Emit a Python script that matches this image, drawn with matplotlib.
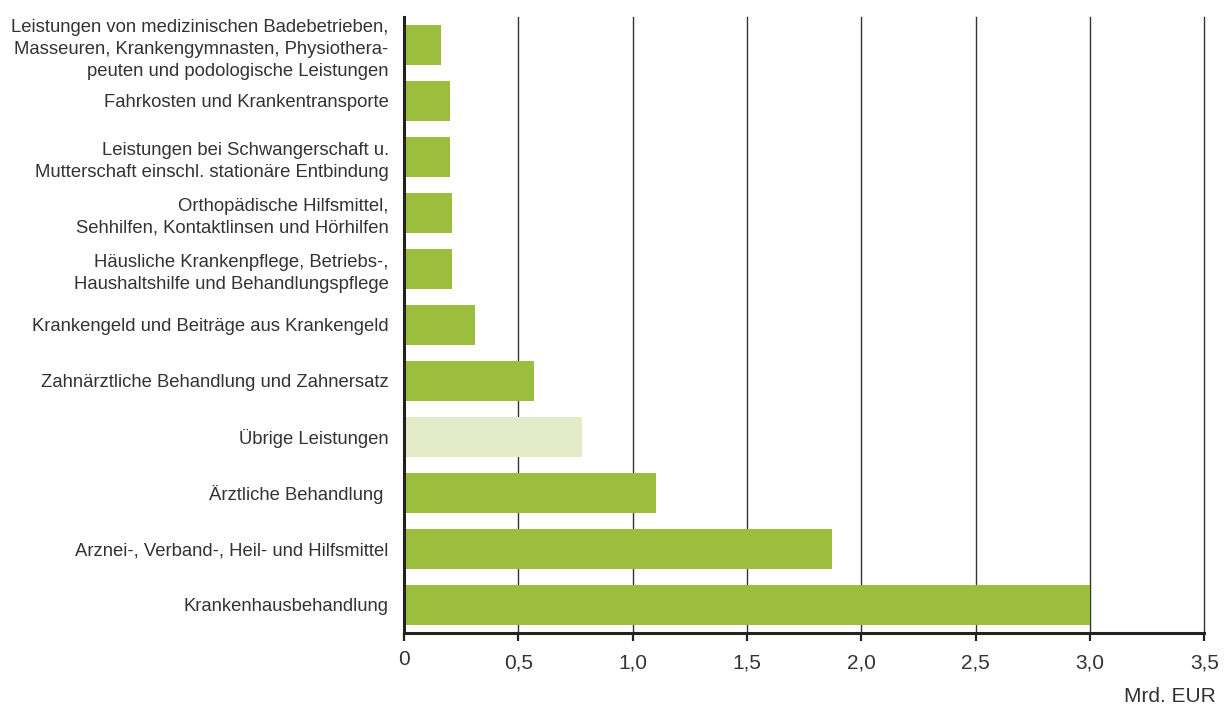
import matplotlib.pyplot as plt
from matplotlib.transforms import ScaledTranslation

# Leistungsausgaben nach Bereichen (Mrd. EUR), von oben nach unten
categories = [
    "Leistungen von medizinischen Badebetrieben,\nMasseuren, Krankengymnasten, Physiothera-\npeuten und podologische Leistungen",
    "Fahrkosten und Krankentransporte",
    "Leistungen bei Schwangerschaft u.\nMutterschaft einschl. stationäre Entbindung",
    "Orthopädische Hilfsmittel,\nSehhilfen, Kontaktlinsen und Hörhilfen",
    "Häusliche Krankenpflege, Betriebs-,\nHaushaltshilfe und Behandlungspflege",
    "Krankengeld und Beiträge aus Krankengeld",
    "Zahnärztliche Behandlung und Zahnersatz",
    "Übrige Leistungen",
    "Ärztliche Behandlung ",
    "Arznei-, Verband-, Heil- und Hilfsmittel",
    "Krankenhausbehandlung",
]
values = [0.16, 0.20, 0.20, 0.21, 0.21, 0.31, 0.57, 0.78, 1.10, 1.87, 3.00]
highlight = "Übrige Leistungen"

x_ticks = [0, 0.5, 1.0, 1.5, 2.0, 2.5, 3.0, 3.5]
x_tick_labels = ["0", "0,5", "1,0", "1,5", "2,0", "2,5", "3,0", "3,5"]

plt.rcParams["font.family"] = ["Liberation Sans", "DejaVu Sans"]

green = "#9bbe3f"
light_green = "#e3ebc8"
text_color = "#333333"
colors = [light_green if c == highlight else green for c in categories]

fig = plt.figure(figsize=(12.29, 7.06), dpi=100)
ax = fig.add_axes([0.3287, 0.1038, 0.6513, 0.8722])

# erste Kategorie oben
ypos = list(range(len(categories)))[::-1]
ax.barh(ypos, values, height=0.72, color=colors, zorder=2)

ax.set_ylim(-0.5, len(categories) - 0.5)
ax.set_xlim(0, 3.5)

ax.set_yticks(ypos)
ax.set_yticklabels(categories, fontsize=13.3, color=text_color, linespacing=1.38)
ax.tick_params(axis="y", length=0, pad=11)

ax.set_xticks(x_ticks)
ax.set_xticklabels(x_tick_labels, fontsize=15, color=text_color)
ax.tick_params(axis="x", direction="out", length=6, width=1.6, color="#222222", pad=9)

# die Null sitzt etwas höher als die übrigen Beschriftungen
zero = ax.get_xticklabels()[0]
zero.set_transform(zero.get_transform() + ScaledTranslation(0, 4 / 100, fig.dpi_scale_trans))

# vertikale Gitterlinien
for x in x_ticks[1:]:
    ax.axvline(x, color="#333333", linewidth=1.0, zorder=1, clip_on=False)

for side in ["top", "right"]:
    ax.spines[side].set_visible(False)
ax.spines["left"].set_linewidth(2.2)
ax.spines["left"].set_color("#222222")
ax.spines["bottom"].set_linewidth(2.2)
ax.spines["bottom"].set_color("#222222")
ax.spines["left"].set_zorder(3)

fig.text(0.989, 0.006, "Mrd. EUR", ha="right", va="baseline", fontsize=15, color=text_color)

fig.savefig("out.png", dpi=100)
